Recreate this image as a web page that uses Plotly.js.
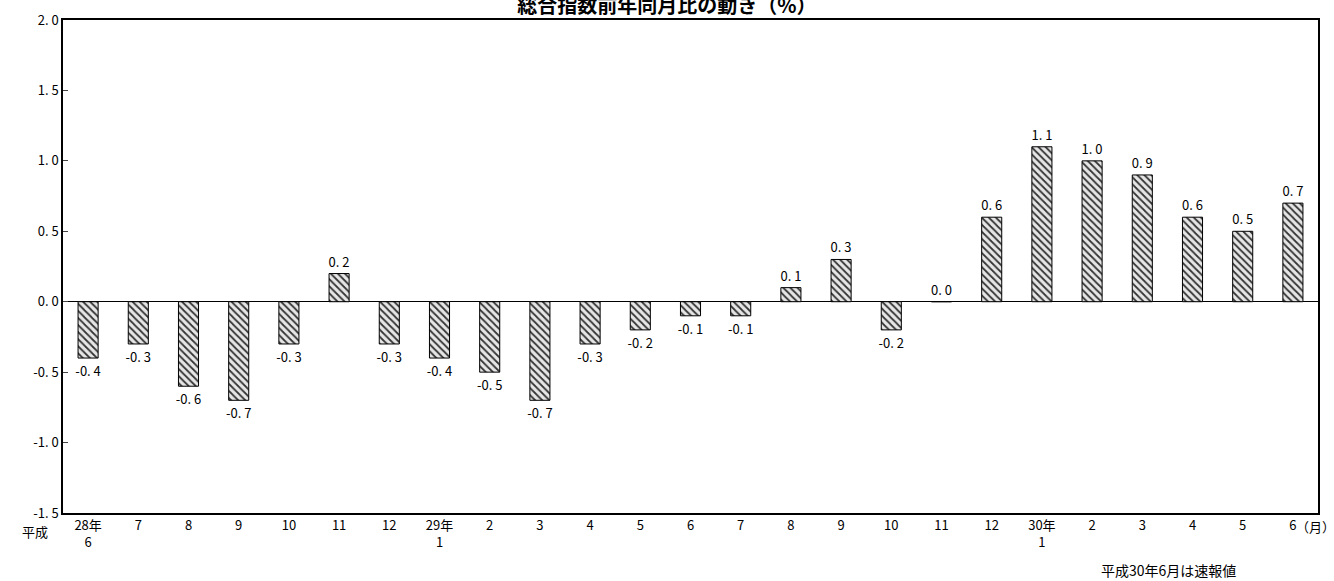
<!DOCTYPE html>
<html><head><meta charset="utf-8">
<script src="https://cdn.plot.ly/plotly-3.0.1.min.js"></script>
<style>body{margin:0}</style></head>
<body><div id="plot" style="width:1334px;height:581px"></div>
<script>
// month labels (平成)
let months = ['28年<br>6','7','8','9','10','11','12','29年<br>1','2','3','4','5','6','7','8','9','10','11','12','30年<br>1','2','3','4','5','6'];
// year-on-year change of the overall index (%)
let changes = [-0.4,-0.3,-0.6,-0.7,-0.3,0.2,-0.3,-0.4,-0.5,-0.7,-0.3,-0.2,-0.1,-0.1,0.1,0.3,-0.2,0.0,0.6,1.1,1.0,0.9,0.6,0.5,0.7];
let yTicks = [-1.5,-1.0,-0.5,0.0,0.5,1.0,1.5,2.0];

// the source writes "0. 6" with a gap after the point
function fmt(v){ return v.toFixed(1).replace('.', '. '); }

let font = {family: '"Noto Sans CJK JP", sans-serif', size: 13, color: '#000'};
let xs = months.map((m, i) => i);

let trace = {
    x: xs, y: changes, type: 'bar', width: 0.4,
    text: changes.map(fmt), textposition: 'outside', cliponaxis: false,
    constraintext: 'none', textfont: font,
    marker: {color: '#d9d9d9', line: {color: '#000', width: 1},
             pattern: {shape: '\\', fgcolor: '#333', bgcolor: '#e6e6e6', size: 5, solidity: 0.35}},
    hoverinfo: 'skip'
};

let layout = {
    margin: {l: 63, r: 16, t: 20, b: 68},
    showlegend: false, plot_bgcolor: '#fff', paper_bgcolor: '#fff',
    font: font,
    title: {text: '<b>総合指数前年同月比の動き（%）</b>', font: {family: font.family, size: 20},
            x: 0.5, xanchor: 'center', y: 0.99, yanchor: 'middle'},
    xaxis: {tickvals: xs, ticktext: months, range: [-0.5, 24.5], showline: true, mirror: true,
            linecolor: '#000', linewidth: 1.5, ticks: '', showgrid: false, zeroline: false, tickfont: font},
    yaxis: {range: [-1.5, 2.0], tickvals: yTicks, ticktext: yTicks.map(fmt), showline: true, mirror: true,
            linecolor: '#000', linewidth: 1.5, ticks: 'inside', ticklen: 5, showgrid: false,
            zeroline: true, zerolinecolor: '#000', zerolinewidth: 1, tickfont: font},
    annotations: [
        {text: '平成', xref: 'paper', yref: 'paper', x: -0.01, y: 0, yshift: -7, xanchor: 'right', yanchor: 'top', showarrow: false, font: font},
        {text: '（月）', xref: 'paper', yref: 'paper', x: 1.0155, y: 0, yshift: -2, xanchor: 'right', yanchor: 'top', showarrow: false, font: font},
        {text: '平成30年6月は速報値', xref: 'paper', yref: 'paper', x: 0.936, y: 0, yshift: -45, xanchor: 'right', yanchor: 'top', showarrow: false, font: {family: font.family, size: 14}}
    ]
};

Plotly.newPlot('plot', [trace], layout, {displayModeBar: false});
</script></body></html>
